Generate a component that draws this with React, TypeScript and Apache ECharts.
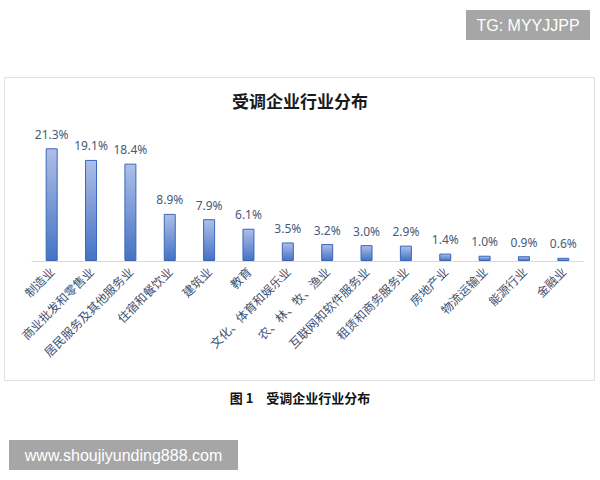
import React, { useEffect, useRef } from "react";
import * as echarts from "echarts";

const categories = [
  "制造业",
  "商业批发和零售业",
  "居民服务及其他服务业",
  "住宿和餐饮业",
  "建筑业",
  "教育",
  "文化、体育和娱乐业",
  "农、林、牧、渔业",
  "互联网和软件服务业",
  "租赁和商务服务业",
  "房地产业",
  "物流运输业",
  "能源行业",
  "金融业",
];
const values = [21.3, 19.1, 18.4, 8.9, 7.9, 6.1, 3.5, 3.2, 3.0, 2.9, 1.4, 1.0, 0.9, 0.6];

const titleText = "受调企业行业分布";
const captionText = "图 1　受调企业行业分布";
const tagText = "TG: MYYJJPP";
const siteText = "www.shoujiyunding888.com";

const FONT = "'Noto Sans CJK SC', 'Noto Sans', sans-serif";

export default function App() {
  const ref = useRef<HTMLDivElement>(null);
  useEffect(() => {
    if (!ref.current) return;
    const chart = echarts.init(ref.current, undefined, { renderer: "svg" });
    chart.setOption({
      animation: false,
      backgroundColor: "#ffffff",
      title: {
        text: titleText,
        left: "center",
        top: 87,
        textStyle: { fontFamily: FONT, fontSize: 17, fontWeight: "bold", color: "#1a1a1a" },
      },
      grid: { left: 32, right: 17, top: 134, bottom: 219 },
      xAxis: {
        type: "category",
        data: categories,
        axisLine: { lineStyle: { color: "#d9d9d9", width: 1 } },
        axisTick: { show: false },
        axisLabel: {
          rotate: 45,
          interval: 0,
          margin: 8,
          fontFamily: FONT,
          fontSize: 12,
          color: "#3f5070",
        },
      },
      yAxis: { type: "value", min: 0, max: 24, show: false, splitLine: { show: false } },
      series: [
        {
          type: "bar",
          data: values,
          barWidth: 12,
          itemStyle: {
            color: new echarts.graphic.LinearGradient(0, 0, 0, 1, [
              { offset: 0, color: "#aebfe8" },
              { offset: 1, color: "#4472c4" },
            ]),
            borderColor: "#3b66b8",
            borderWidth: 1,
          },
          label: {
            show: true,
            position: "top",
            distance: 8,
            formatter: (p: any) => p.value.toFixed(1) + "%",
            fontFamily: "'Noto Sans', sans-serif",
            fontSize: 12,
            color: "#4a5878",
          },
        },
      ],
      graphic: [
        {
          type: "rect",
          shape: { x: 4.5, y: 77.5, width: 590, height: 303 },
          style: { fill: "none", stroke: "#e0e0e0", lineWidth: 1 },
          z: -1,
        },
        {
          type: "text",
          x: 300,
          y: 397,
          style: {
            text: captionText,
            fontFamily: FONT,
            fontSize: 13,
            fontWeight: "bold",
            fill: "#111111",
            align: "center",
            verticalAlign: "middle",
          },
        },
        {
          type: "rect",
          shape: { x: 466, y: 10, width: 124, height: 30 },
          style: { fill: "#a6a6a6" },
        },
        {
          type: "text",
          x: 528,
          y: 25,
          style: {
            text: tagText,
            fontFamily: "'Liberation Sans', Arial, sans-serif",
            fontSize: 16,
            fill: "#ffffff",
            align: "center",
            verticalAlign: "middle",
          },
        },
        {
          type: "rect",
          shape: { x: 9, y: 440, width: 229, height: 30 },
          style: { fill: "#a6a6a6" },
        },
        {
          type: "text",
          x: 123.5,
          y: 455,
          style: {
            text: siteText,
            fontFamily: "'Liberation Sans', Arial, sans-serif",
            fontSize: 16,
            fill: "#ffffff",
            align: "center",
            verticalAlign: "middle",
          },
        },
      ],
    });
    return () => chart.dispose();
  }, []);
  return (
    <div
      ref={ref}
      style={{ position: "absolute", left: 0, top: 0, width: 600, height: 480 }}
    />
  );
}
